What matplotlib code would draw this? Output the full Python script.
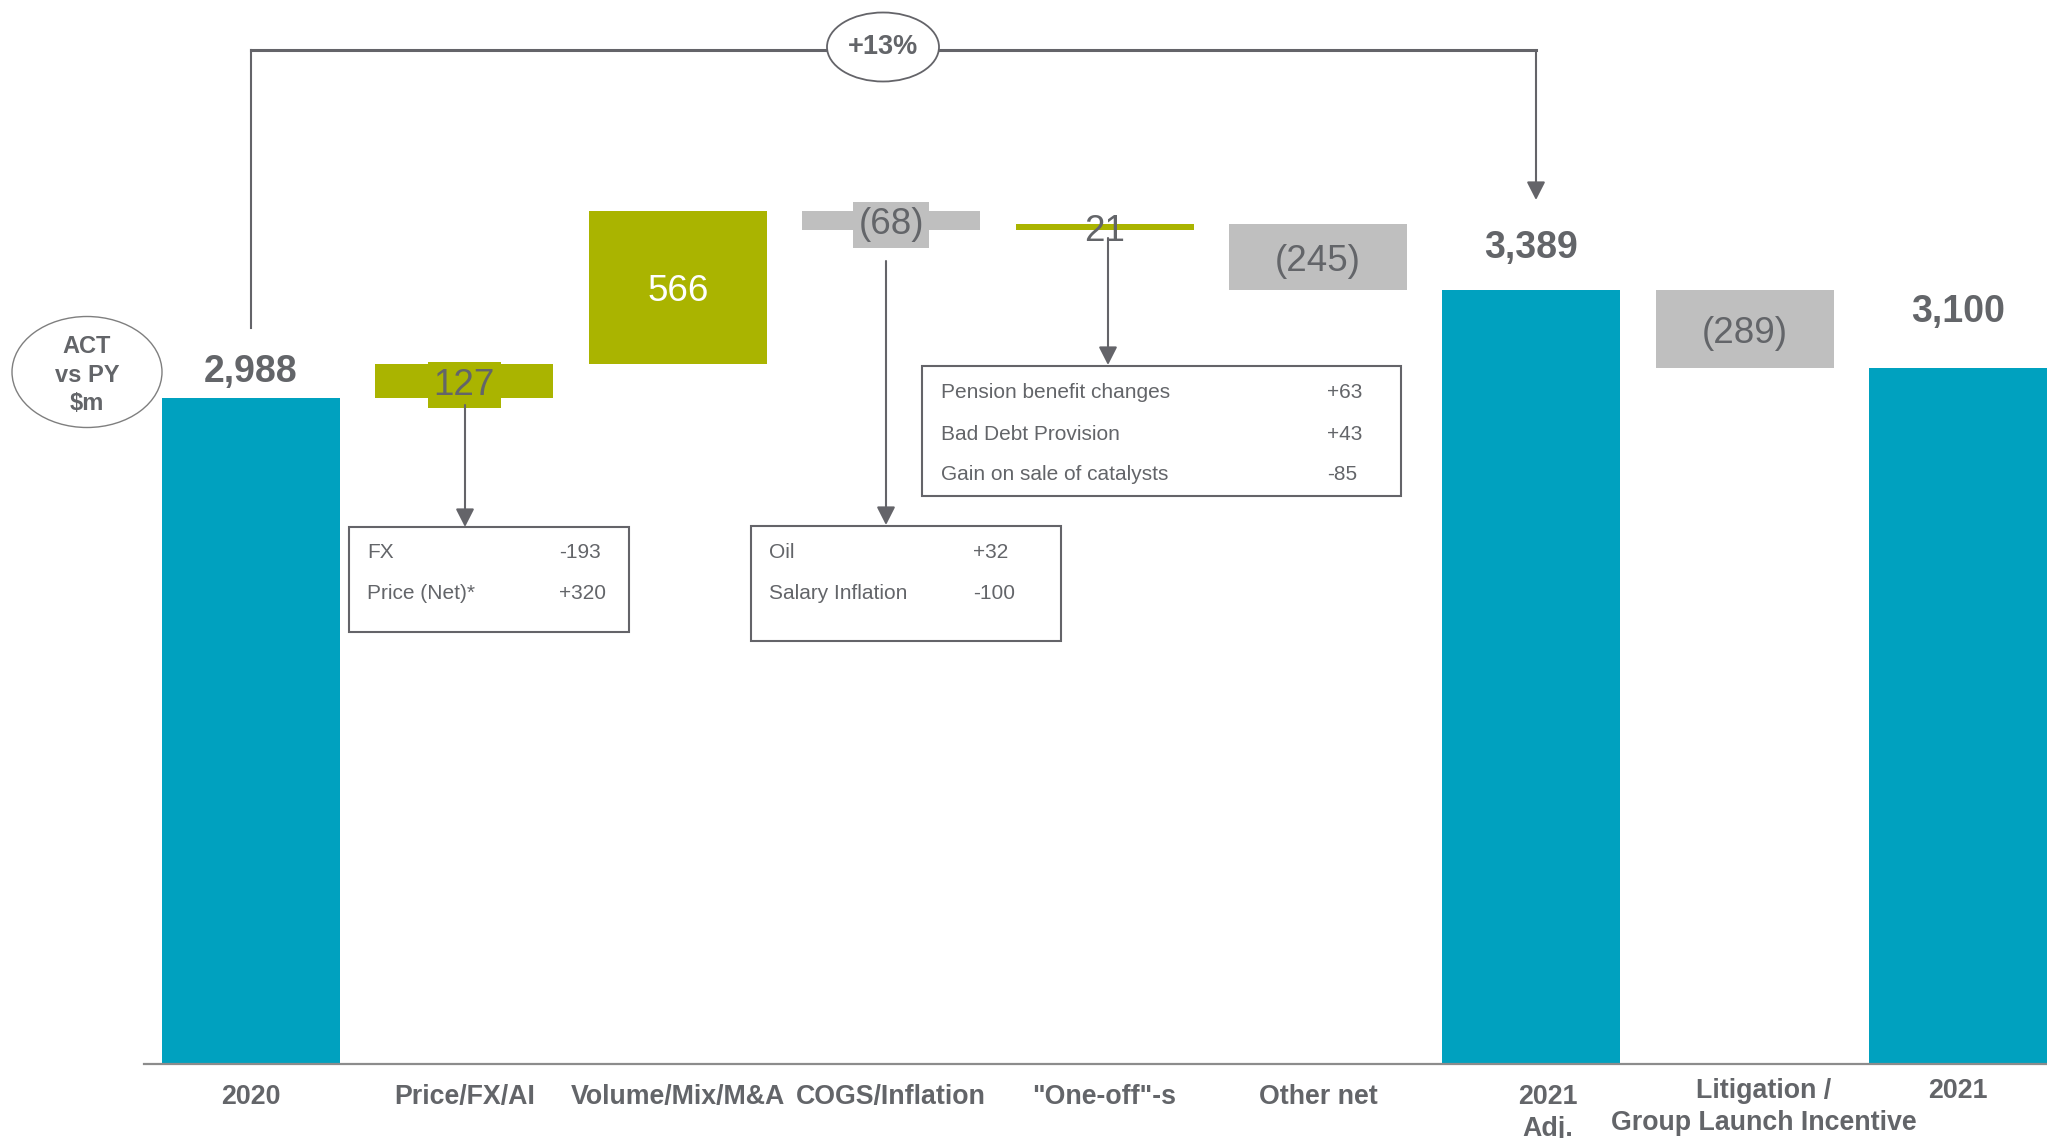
import matplotlib
matplotlib.use("Agg")
import matplotlib.pyplot as plt
import matplotlib.transforms as mtransforms
from matplotlib.patches import Ellipse, Rectangle, FancyArrowPatch
from matplotlib.lines import Line2D
import numpy as np

plt.rcParams['font.family'] = ['Liberation Sans', 'DejaVu Sans']

# chart data
categories = ['2020', 'Price/FX/AI', 'Volume/Mix/M&A', 'COGS/Inflation', '"One-off"-s',
              'Other net', '2021\nAdj.', 'Litigation /\nGroup Launch Incentive', '2021']
values = [2988, 127, 566, -68, 21, -245, 3389, -289, 3100]
is_total = [True, False, False, False, False, False, True, False, True]

fx_items = ['FX', 'Price (Net)*']
fx_values = ['-193', '+320']
cogs_items = ['Oil', 'Salary Inflation']
cogs_values = ['+32', '-100']
oneoff_items = ['Pension benefit changes', 'Bad Debt Provision', 'Gain on sale of catalysts']
oneoff_values = ['+63', '+43', '-85']
growth_label = '+13%'
unit_label = 'ACT\nvs PY\n$m'

TEAL = '#00A1BF'
GREEN = '#AAB400'
GREY = '#BFBFBF'
TXT = '#636569'
LINE = '#646469'

W, H = 2047, 1138
fig = plt.figure(figsize=(W / 100, H / 100), dpi=100)
ax = fig.add_axes([0, 0, 1, 1])
ax.set_axis_off()

base = 515  # value where the (broken) axis line sits
ax.set_xlim(-1.176, 8.416)
ax.set_ylim(240, 4466)

# pixel coordinates (from top-left) for the callouts
pix = mtransforms.Affine2D().scale(1 / W, -1 / H).translate(0, 1) + fig.transFigure
lab_tr = mtransforms.blended_transform_factory(ax.transData, pix)

# waterfall
x = np.arange(len(values))
bottoms, heights, colors = [], [], []
running = 0
for v, tot in zip(values, is_total):
    if tot:
        bottoms.append(base)
        heights.append(v - base)
        colors.append(TEAL)
        running = v
    else:
        bottoms.append(min(running, running + v))
        heights.append(abs(v))
        colors.append(GREEN if v > 0 else GREY)
        running += v
bottoms = np.array(bottoms)
heights = np.array(heights)
tops = bottoms + heights
ax.bar(x, heights, bottom=bottoms, width=0.834, color=colors, zorder=2)

ax.axhline(base, xmin=144 / W, xmax=1, color='#8C8C8C', lw=1.6, zorder=3)

# value labels
total_gap = {0: 11.5, 6: 23, 8: 33}
for i, v in enumerate(values):
    if is_total[i]:
        ax.annotate(f'{v:,}', (x[i], tops[i]), xytext=(0, total_gap[i]),
                    textcoords='offset points', ha='center', va='baseline',
                    fontsize=27, fontweight='bold', color=TXT)
        continue
    txt = str(v) if v > 0 else f'({-v})'
    mid = bottoms[i] + heights[i] / 2
    kw = dict(ha='center', va='center', fontsize=26.5, color=TXT, zorder=4)
    if i == 2:
        kw['color'] = 'white'
    if i in (1, 3):
        kw['bbox'] = dict(boxstyle='square,pad=0.15', fc=colors[i], ec='none')
    ax.annotate(txt, (x[i], mid), xytext=(0, -3), textcoords='offset points', **kw)

# category labels
lab_shift = {6: 0.075, 7: 0.09}
for i, c in enumerate(categories):
    ytop = 1078 if i >= 7 else 1084
    ax.text(x[i] + lab_shift.get(i, 0), ytop, c, transform=lab_tr, ha='center', va='top',
            fontsize=19.3, fontweight='bold', color=TXT, linespacing=1.3)


def arrow(x0, y0, x1, y1):
    a = FancyArrowPatch((x0, y0), (x1, y1), transform=pix,
                        arrowstyle='-|>,head_length=0.55,head_width=0.28',
                        mutation_scale=20, color=LINE, lw=1.5, shrinkA=0, shrinkB=0,
                        zorder=5)
    fig.add_artist(a)


def detail_box(x0, y0, w, h, names, nums, name_x, num_x, row_y, fs):
    fig.add_artist(Rectangle((x0, y0), w, h, transform=pix, fill=False,
                             ec=LINE, lw=1.5, zorder=5))
    for n, v, yy in zip(names, nums, row_y):
        fig.text(name_x, yy, n, transform=pix, ha='left', va='center',
                 fontsize=fs, color=TXT)
        fig.text(num_x, yy, v, transform=pix, ha='left', va='center',
                 fontsize=fs, color=TXT)


detail_box(349, 527, 280, 105, fx_items, fx_values, 367, 559, [553, 594], 15)
arrow(465, 405, 465, 527)
detail_box(751, 526, 310, 115, cogs_items, cogs_values, 769, 973, [553, 594], 15)
arrow(886, 261, 886, 525)
detail_box(922, 366, 479, 130, oneoff_items, oneoff_values, 941, 1327, [392, 434, 475], 15)
arrow(1108, 238, 1108, 365)

# growth bracket
fig.add_artist(Line2D([251, 251], [328, 50], transform=pix, color=LINE, lw=1.5))
fig.add_artist(Line2D([251, 1536], [50, 50], transform=pix, color=LINE, lw=2.2))
arrow(1536, 50, 1536, 200)
fig.add_artist(Ellipse((883, 47), 112, 69, transform=pix, fc='white', ec=LINE, lw=1.3, zorder=6))
fig.text(883, 47, growth_label, transform=pix, ha='center', va='center',
         fontsize=19.5, fontweight='bold', color=TXT, zorder=7)

# unit bubble
fig.add_artist(Ellipse((87, 372), 150, 111, transform=pix, fc='none', ec='#7F7F7F', lw=1))
fig.text(87, 375, unit_label, transform=pix, ha='center', va='center',
         fontsize=17, fontweight='bold', color=TXT, linespacing=1.3)

fig.savefig('out.png', dpi=100)
